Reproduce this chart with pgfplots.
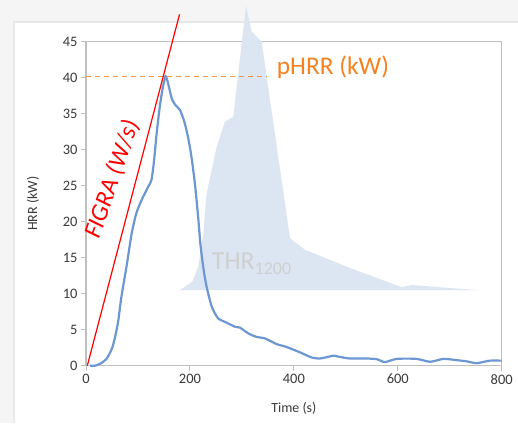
\documentclass[border=0pt]{standalone}
\usepackage{pgfplots}
\pgfplotsset{compat=1.18}
\usepackage{fontspec}
\setmainfont{Carlito}
\definecolor{hrr}{HTML}{6C97D3}
\definecolor{thr}{HTML}{DCE6F2}
\definecolor{orng}{HTML}{F79646}
\definecolor{orngtxt}{HTML}{F5821F}
\definecolor{frame}{HTML}{BFBFBF}
\definecolor{ticktxt}{HTML}{3A3A3A}
\definecolor{thrtxt}{HTML}{CFCFCF}
\begin{document}
\begin{tikzpicture}[x=1bp,y=1bp]
\useasboundingbox (0,0) rectangle (518,423);
\fill[black!4] (0,0) rectangle (518,423);
\fill[black!9] (13,0) rectangle (518,402);
\fill[white] (15,0) rectangle (518,400);
\begin{axis}[at={(86bp,57.3bp)}, anchor=south west, scale only axis,
  width=415.7bp, height=324bp,
  xmin=0, xmax=800, ymin=0, ymax=45,
  xtick={0,200,...,800}, ytick={0,5,...,45},
  axis line style={frame, line width=1.2bp},
  tick style={frame, line width=1bp}, tick align=outside, major tick length=5bp,
  tick pos=left,
  clip=false,
  /pgf/number format/assume math mode=true,
  ticklabel style={font=\fontsize{14.5}{16}\selectfont, text=ticktxt},
  xlabel={Time (s)}, ylabel={HRR (kW)},
  label style={font=\fontsize{14}{16}\selectfont, text=ticktxt},
  xlabel style={at={(axis description cs:0.5,-0.1306)}, anchor=center},
  ylabel style={at={(axis description cs:-0.1275,0.5)}, anchor=center},
]
% THR area
\addplot[fill=thr, draw=none] coordinates {
 (181,10.5)(205,11.7)(216,13.75)(226,18.4)(232,23.9)(251.5,30.4)(267.5,33.9)
 (283.5,34.6)(308,50)(319,46.4)(338,45)(392.6,17.7)(421.5,16.1)(501.7,13.75)
 (607.5,10.9)(627,11.2)(752,10.5)};
\node[anchor=base west, text=thrtxt, inner sep=0pt] at (axis cs:241.9,13.3)
 {\fontsize{26}{30}\selectfont THR\raisebox{-5bp}{\fontsize{18}{20}\selectfont 1200}};
% HRR
\addplot[hrr, line width=2.2bp, smooth, tension=0.4] coordinates {
 (8,0)(17,0)(28,0.3)(40,1.0)(50,2.4)(56,4)(62,6.2)(68,9.5)(78,13.8)(88,18.4)
 (97,21.2)(107,23)(120,24.9)(126,25.8)(131,28.5)(136,32.3)(142,36)(147,38.3)
 (153,40.2)(158,39.2)(165,37.1)(172,36.2)(181,35.5)(190,33.7)(197,31.5)(203,29)
 (210,25)(216,20.5)(220,17)(226,13.5)(232,11)(242,8.2)(254,6.6)(270,6)(287,5.4)
 (296,5.3)(312,4.5)(328,4.0)(344,3.8)(367,3.0)(386,2.6)(412,1.85)(434,1.15)
 (450,1.0)(470,1.3)(476,1.4)(490,1.2)(508,1.0)(540,1.0)(560,0.9)(575,0.5)
 (598,0.95)(636,0.95)(662,0.55)(688,0.95)(710,0.8)(733,0.6)(752,0.35)(777,0.7)(800,0.7)};
% pHRR
\addplot[orng, line width=1.5bp, dash pattern=on 5bp off 4bp] coordinates {(0,40.2)(348,40.2)};
\node[anchor=base west, text=orngtxt, inner sep=0pt] at (axis cs:367,40.5)
 {\fontsize{25.5}{28}\selectfont pHRR (kW)};
% FIGRA
\addplot[red, line width=1.2bp] coordinates {(2.5,0)(180,48.8)};
\node[text=red, rotate=71, inner sep=0pt] at (axis cs:50,25.9)
 {\fontsize{25}{28}\selectfont\itshape FIGRA (W/s)};
\end{axis}
\end{tikzpicture}
\end{document}
